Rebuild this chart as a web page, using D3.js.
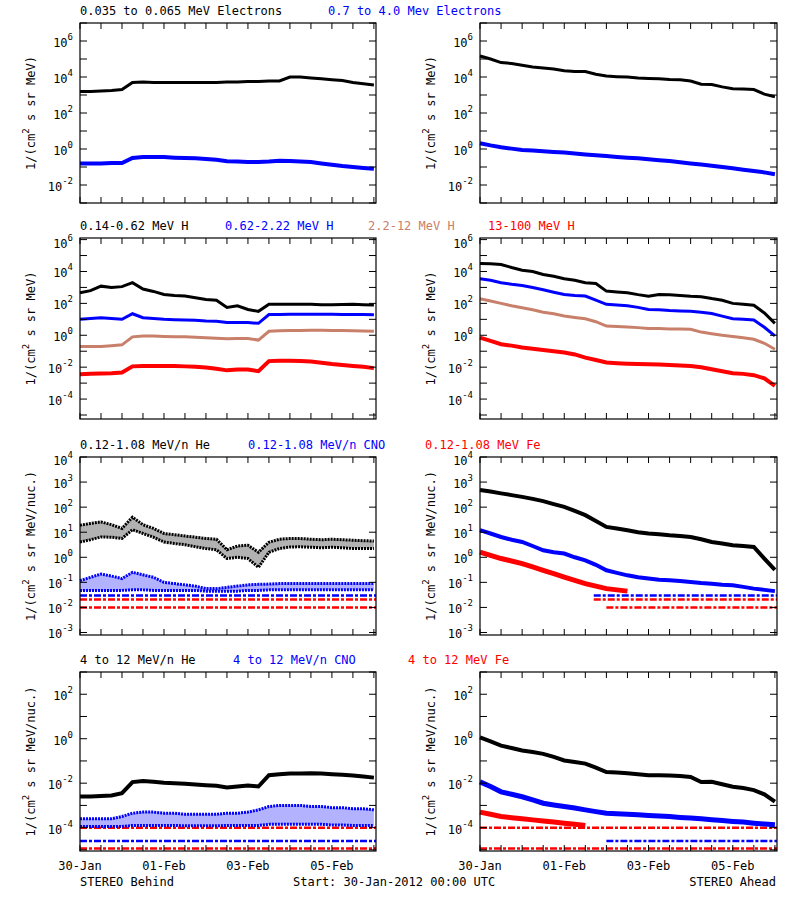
<!DOCTYPE html>
<html><head><meta charset="utf-8">
<script src="https://cdn.jsdelivr.net/npm/d3@7"></script>
<style>body{margin:0;background:#fff}svg{display:block}text{font-family:"DejaVu Sans Mono",monospace;font-size:12px}</style>
</head><body><svg id="c" width="800" height="900"></svg>
<script>
// time grid: days since 30-Jan-2012 00:00 UTC, every 6 hours
const days = [0,0.25,0.5,0.75,1,1.25,1.5,1.75,2,2.25,2.5,2.75,3,3.25,3.5,3.75,4,4.25,4.5,4.75,5,5.25,5.5,5.75,6,6.25,6.5,6.75,7];
const xTickLabels = ["30-Jan","01-Feb","03-Feb","05-Feb"];
// all values are log10 of intensity
const behindElLow  = [3.2,3.2,3.22,3.25,3.3,3.7,3.72,3.7,3.7,3.7,3.7,3.7,3.7,3.7,3.72,3.72,3.75,3.75,3.78,3.78,4.0,4.0,3.95,3.9,3.85,3.8,3.7,3.62,3.55];
const behindElHigh = [-0.8,-0.8,-0.8,-0.78,-0.78,-0.5,-0.45,-0.45,-0.45,-0.48,-0.5,-0.52,-0.55,-0.6,-0.68,-0.7,-0.72,-0.72,-0.7,-0.65,-0.67,-0.7,-0.72,-0.8,-0.88,-0.95,-1.0,-1.05,-1.1];
const aheadElLow   = [5.17,5.0,4.8,4.75,4.65,4.55,4.5,4.45,4.35,4.3,4.3,4.15,4.05,4.02,4.0,3.95,3.92,3.9,3.86,3.85,3.78,3.6,3.58,3.45,3.35,3.33,3.3,3.05,2.9];
const aheadElHigh  = [0.32,0.2,0.1,0.02,-0.05,-0.08,-0.12,-0.16,-0.2,-0.25,-0.3,-0.35,-0.39,-0.44,-0.48,-0.52,-0.57,-0.62,-0.67,-0.73,-0.8,-0.86,-0.93,-1.0,-1.07,-1.15,-1.22,-1.3,-1.4];
const behindH1 = [2.67,2.8,3.08,3.0,3.05,3.3,2.9,2.75,2.56,2.5,2.46,2.35,2.25,2.2,1.75,1.85,1.62,1.5,1.94,1.95,1.95,1.95,1.95,1.92,1.92,1.93,1.95,1.92,1.9];
const behindH2 = [1.0,1.05,1.1,1.05,1.0,1.35,1.1,1.05,1.0,0.98,0.96,0.94,0.9,0.88,0.8,0.8,0.8,0.75,1.3,1.31,1.32,1.32,1.32,1.32,1.32,1.3,1.3,1.3,1.28];
const behindH3 = [-0.71,-0.7,-0.7,-0.65,-0.6,-0.1,-0.05,-0.05,-0.08,-0.1,-0.1,-0.12,-0.15,-0.18,-0.22,-0.2,-0.2,-0.3,0.25,0.28,0.3,0.3,0.32,0.32,0.3,0.3,0.28,0.27,0.25];
const behindH4 = [-2.44,-2.42,-2.4,-2.38,-2.33,-1.95,-1.92,-1.92,-1.92,-1.92,-1.95,-1.98,-2.02,-2.1,-2.2,-2.15,-2.15,-2.25,-1.62,-1.6,-1.6,-1.62,-1.65,-1.72,-1.8,-1.86,-1.92,-1.98,-2.06];
const aheadH1 = [4.5,4.48,4.44,4.25,4.08,4.0,3.81,3.7,3.54,3.45,3.29,3.25,2.77,2.72,2.67,2.55,2.45,2.56,2.54,2.5,2.45,2.42,2.3,2.2,2.0,1.95,1.88,1.4,0.75];
const aheadH2 = [3.54,3.45,3.3,3.2,3.12,3.0,2.85,2.7,2.56,2.5,2.46,2.2,1.94,1.9,1.85,1.75,1.62,1.6,1.55,1.52,1.5,1.45,1.36,1.2,1.04,1.0,0.96,0.5,-0.04];
const aheadH3 = [2.29,2.15,2.0,1.85,1.73,1.6,1.45,1.35,1.21,1.12,1.04,0.85,0.58,0.55,0.52,0.48,0.42,0.42,0.4,0.4,0.38,0.2,0.1,0.0,-0.08,-0.15,-0.25,-0.5,-0.88];
const aheadH4 = [-0.15,-0.35,-0.56,-0.65,-0.77,-0.85,-0.92,-1.0,-1.08,-1.2,-1.4,-1.55,-1.71,-1.75,-1.78,-1.8,-1.81,-1.84,-1.87,-1.9,-1.92,-2.0,-2.13,-2.25,-2.38,-2.42,-2.5,-2.7,-3.17];
const behindLoHeUp  = [1.28,1.35,1.41,1.3,1.15,1.6,1.3,1.15,0.95,0.9,0.85,0.8,0.75,0.72,0.3,0.45,0.48,0.2,0.6,0.72,0.75,0.75,0.72,0.7,0.72,0.7,0.68,0.66,0.65];
const behindLoHeLo  = [0.61,0.7,0.81,0.8,0.75,1.1,0.95,0.8,0.61,0.55,0.5,0.42,0.35,0.3,-0.05,0.0,-0.05,-0.4,0.2,0.35,0.41,0.42,0.4,0.38,0.4,0.38,0.35,0.35,0.35];
const behindLoCNOUp = [-0.93,-0.8,-0.67,-0.75,-0.85,-0.6,-0.7,-0.8,-1.0,-1.05,-1.1,-1.15,-1.25,-1.25,-1.2,-1.15,-1.1,-1.08,-1.07,-1.05,-1.05,-1.05,-1.05,-1.05,-1.05,-1.05,-1.05,-1.05,-1.05];
const behindLoCNOLo = [-1.32,-1.32,-1.32,-1.32,-1.32,-1.3,-1.3,-1.32,-1.32,-1.32,-1.32,-1.32,-1.35,-1.35,-1.35,-1.35,-1.32,-1.32,-1.3,-1.3,-1.3,-1.3,-1.3,-1.3,-1.3,-1.3,-1.3,-1.3,-1.3];
const aheadLoHe  = [2.68,2.62,2.55,2.48,2.41,2.33,2.24,2.12,2.01,1.85,1.68,1.45,1.21,1.15,1.08,1.0,0.95,0.92,0.88,0.85,0.81,0.72,0.61,0.55,0.48,0.45,0.41,-0.05,-0.5];
const aheadLoCNO = [1.08,0.95,0.81,0.7,0.61,0.45,0.28,0.2,0.15,0.0,-0.12,-0.3,-0.52,-0.62,-0.72,-0.8,-0.85,-0.9,-0.92,-0.95,-0.99,-1.03,-1.06,-1.1,-1.12,-1.18,-1.25,-1.3,-1.35];
const aheadLoFe  = [0.21,0.08,-0.05,-0.15,-0.25,-0.38,-0.52,-0.65,-0.79,-0.92,-1.05,-1.15,-1.25,-1.3,-1.35,null,null,null,null,null,null,null,null,null,null,null,null,null,null];
const behindHiHe    = [-2.6,-2.6,-2.58,-2.55,-2.45,-1.95,-1.9,-1.94,-1.98,-2.0,-2.03,-2.06,-2.09,-2.12,-2.19,-2.15,-2.1,-2.15,-1.64,-1.6,-1.57,-1.56,-1.55,-1.57,-1.6,-1.62,-1.65,-1.7,-1.75];
const behindHiCNOUp = [-3.6,-3.6,-3.6,-3.6,-3.5,-3.35,-3.3,-3.3,-3.35,-3.35,-3.4,-3.4,-3.4,-3.4,-3.35,-3.35,-3.3,-3.2,-3.05,-3.0,-3.0,-3.0,-3.05,-3.05,-3.1,-3.1,-3.15,-3.15,-3.2];
const behindHiCNOLo = [-3.95,-3.95,-3.95,-3.95,-3.95,-3.9,-3.9,-3.9,-3.9,-3.9,-3.92,-3.92,-3.92,-3.92,-3.9,-3.9,-3.9,-3.9,-3.85,-3.85,-3.85,-3.85,-3.85,-3.85,-3.88,-3.88,-3.9,-3.9,-3.9];
const aheadHiHe  = [0.06,-0.12,-0.31,-0.42,-0.53,-0.6,-0.68,-0.82,-0.98,-1.05,-1.12,-1.3,-1.5,-1.52,-1.55,-1.6,-1.64,-1.64,-1.65,-1.68,-1.72,-1.95,-1.94,-2.05,-2.16,-2.22,-2.31,-2.5,-2.83];
const aheadHiCNO = [-1.94,-2.15,-2.39,-2.5,-2.61,-2.75,-2.9,-2.98,-3.05,-3.12,-3.2,-3.28,-3.35,-3.38,-3.4,-3.42,-3.45,-3.48,-3.5,-3.54,-3.57,-3.6,-3.64,-3.68,-3.72,-3.75,-3.8,-3.84,-3.87];
const aheadHiFe  = [-3.3,-3.4,-3.5,-3.55,-3.6,-3.65,-3.7,-3.75,-3.8,-3.85,-3.9,null,null,null,null,null,null,null,null,null,null,null,null,null,null,null,null,null,null];
// one-count floor levels: [log10 level, start day, colour key]
const floorsBehindLo = [[-1.52,0,"b"],[-1.68,0,"r"],[-2.0,0,"r"]];
const floorsAheadLo  = [[-1.52,2.7,"b"],[-1.68,2.7,"r"],[-2.0,3.0,"r"]];
const floorsBehindHi = [[-4.0,0,"r"],[-4.6,0,"b"],[-4.94,0,"r"]];
const floorsAheadHi  = [[-4.0,0,"r"],[-4.6,3.0,"b"],[-4.94,0,"r"]];
const titles = [
 [["0.035 to 0.065 MeV Electrons","k"],["0.7 to 4.0 Mev Electrons","b"]],
 [["0.14-0.62 MeV H","k"],["0.62-2.22 MeV H","b"],["2.2-12 MeV H","o"],["13-100 MeV H","r"]],
 [["0.12-1.08 MeV/n He","k"],["0.12-1.08 MeV/n CNO","b"],["0.12-1.08 MeV Fe","r"]],
 [["4 to 12 MeV/n He","k"],["4 to 12 MeV/n CNO","b"],["4 to 12 MeV Fe","r"]]];
const titleX = [[80,328],[80,225,368,488],[80,248,425],[80,233,408]];

const col = {k:"#000",b:"#0000ff",o:"#c8806a",r:"#ff0000"};
const svg = d3.select("#c");
const t0 = Date.UTC(2012,0,30), DAY=864e5;
const rows = [
 {y0:23,y1:203,lo:-3,hi:7,labs:[-2,0,2,4,6],unit:"MeV)"},
 {y0:238,y1:419,lo:-5.25,hi:6.1,labs:[-4,-2,0,2,4,6],unit:"MeV)"},
 {y0:457,y1:635,lo:-3.1,hi:4,labs:[-3,-2,-1,0,1,2,3,4],unit:"MeV/nuc.)"},
 {y0:672,y1:851,lo:-5.05,hi:3,labs:[-4,-2,0,2],unit:"MeV/nuc.)"}];
const cols = [{x0:80,x1:376},{x0:480,x1:777}];

function panel(r,c,lines,bands,floors){
  const R=rows[r],C=cols[c];
  const x=d3.scaleUtc().domain([new Date(t0),new Date(t0+7.05*DAY)]).range([C.x0,C.x1]);
  const y=d3.scaleLog().domain([10**R.lo,10**R.hi]).range([R.y1,R.y0]);
  const g=svg.append("g");
  const X=d=>x(new Date(t0+d*DAY));
  (floors||[]).forEach(([v,s,k])=>{
    g.append("line").attr("x1",X(s)).attr("x2",C.x1).attr("y1",y(10**v)).attr("y2",y(10**v))
     .attr("stroke",col[k]).attr("stroke-width",2.5).attr("stroke-dasharray","7,2,3,2");
  });
  (bands||[]).forEach(([up,lo,k])=>{
    const a=d3.area().x((d,i)=>X(days[i])).y0((d,i)=>y(10**lo[i])).y1(d=>y(10**d));
    g.append("path").attr("d",a(up)).attr("fill",col[k]).attr("fill-opacity",0.3);
    [up,lo].forEach(s=>g.append("path").attr("d",d3.line().x((d,i)=>X(days[i])).y(d=>y(10**d))(s))
      .attr("fill","none").attr("stroke",col[k]).attr("stroke-width",3).attr("stroke-dasharray","2,1"));
  });
  (lines||[]).forEach(([s,k,w])=>{
    const l=d3.line().defined(d=>d!=null).x((d,i)=>X(days[i])).y(d=>y(10**d));
    g.append("path").attr("d",l(s)).attr("fill","none").attr("stroke",col[k]).attr("stroke-width",w||3);
  });
  g.append("rect").attr("x",C.x0).attr("y",R.y0).attr("width",C.x1-C.x0).attr("height",R.y1-R.y0)
   .attr("fill","none").attr("stroke","#000").attr("stroke-width",1.2);
  const xt=d3.utcHour.every(12).range(new Date(t0),new Date(t0+7.05*DAY));
  xt.forEach(d=>{const xx=x(d);
    g.append("line").attr("x1",xx).attr("x2",xx).attr("y1",R.y1).attr("y2",R.y1-6).attr("stroke","#000");
    g.append("line").attr("x1",xx).attr("x2",xx).attr("y1",R.y0).attr("y2",R.y0+6).attr("stroke","#000");});
  if(r===3){
    xTickLabels.forEach((lab,i)=>{g.append("text").attr("x",x(new Date(t0+i*2*DAY))).attr("y",870)
      .attr("text-anchor","middle").attr("font-size",13).text(lab);});
  }
  for(let e=Math.ceil(R.lo);e<=Math.floor(R.hi);e++){const yy=y(10**e);
    g.append("line").attr("x1",C.x0).attr("x2",C.x0+7).attr("y1",yy).attr("y2",yy).attr("stroke","#000");
    g.append("line").attr("x1",C.x1).attr("x2",C.x1-7).attr("y1",yy).attr("y2",yy).attr("stroke","#000");}
  R.labs.forEach(e=>{const yy=y(10**e);
    const t=g.append("text").attr("x",C.x0-7).attr("y",yy+(yy-R.y0<8?8:6)).attr("text-anchor","end").attr("font-size",13);
    t.append("tspan").text("10");
    t.append("tspan").attr("dy",-7).attr("font-size",9).text(e);
  });
  const cy=(R.y0+R.y1)/2, lx=C.x0-45;
  const yt=g.append("text").attr("transform",`translate(${lx},${cy}) rotate(-90)`).attr("text-anchor","middle").attr("font-size",13);
  yt.append("tspan").text("1/(cm");
  yt.append("tspan").attr("dy",-6).attr("font-size",9).text("2");
  yt.append("tspan").attr("dy",6).text(" s sr "+R.unit);
}
panel(0,0,[[behindElLow,"k"],[behindElHigh,"b",4]]);
panel(0,1,[[aheadElLow,"k"],[aheadElHigh,"b",4]]);
panel(1,0,[[behindH1,"k"],[behindH2,"b"],[behindH3,"o"],[behindH4,"r",4]]);
panel(1,1,[[aheadH1,"k"],[aheadH2,"b"],[aheadH3,"o"],[aheadH4,"r",4]]);
panel(2,0,[],[[behindLoCNOUp,behindLoCNOLo,"b"],[behindLoHeUp,behindLoHeLo,"k"]],floorsBehindLo);
panel(2,1,[[aheadLoFe,"r",5],[aheadLoCNO,"b",4],[aheadLoHe,"k",4]],[],floorsAheadLo);
panel(3,0,[[behindHiHe,"k",4]],[[behindHiCNOUp,behindHiCNOLo,"b"]],floorsBehindHi);
panel(3,1,[[aheadHiFe,"r",5],[aheadHiCNO,"b",5],[aheadHiHe,"k",4]],[],floorsAheadHi);
titles.forEach((row,r)=>row.forEach(([s,k],i)=>{
  svg.append("text").attr("x",titleX[r][i]).attr("y",rows[r].y0-8).attr("fill",col[k]).attr("font-size",12).text(s);
}));
svg.append("text").attr("x",80).attr("y",886).attr("font-size",12).text("STEREO Behind");
svg.append("text").attr("x",293).attr("y",886).attr("font-size",12).text("Start: 30-Jan-2012 00:00 UTC");
svg.append("text").attr("x",776).attr("y",886).attr("text-anchor","end").attr("font-size",12).text("STEREO Ahead");
</script></body></html>
